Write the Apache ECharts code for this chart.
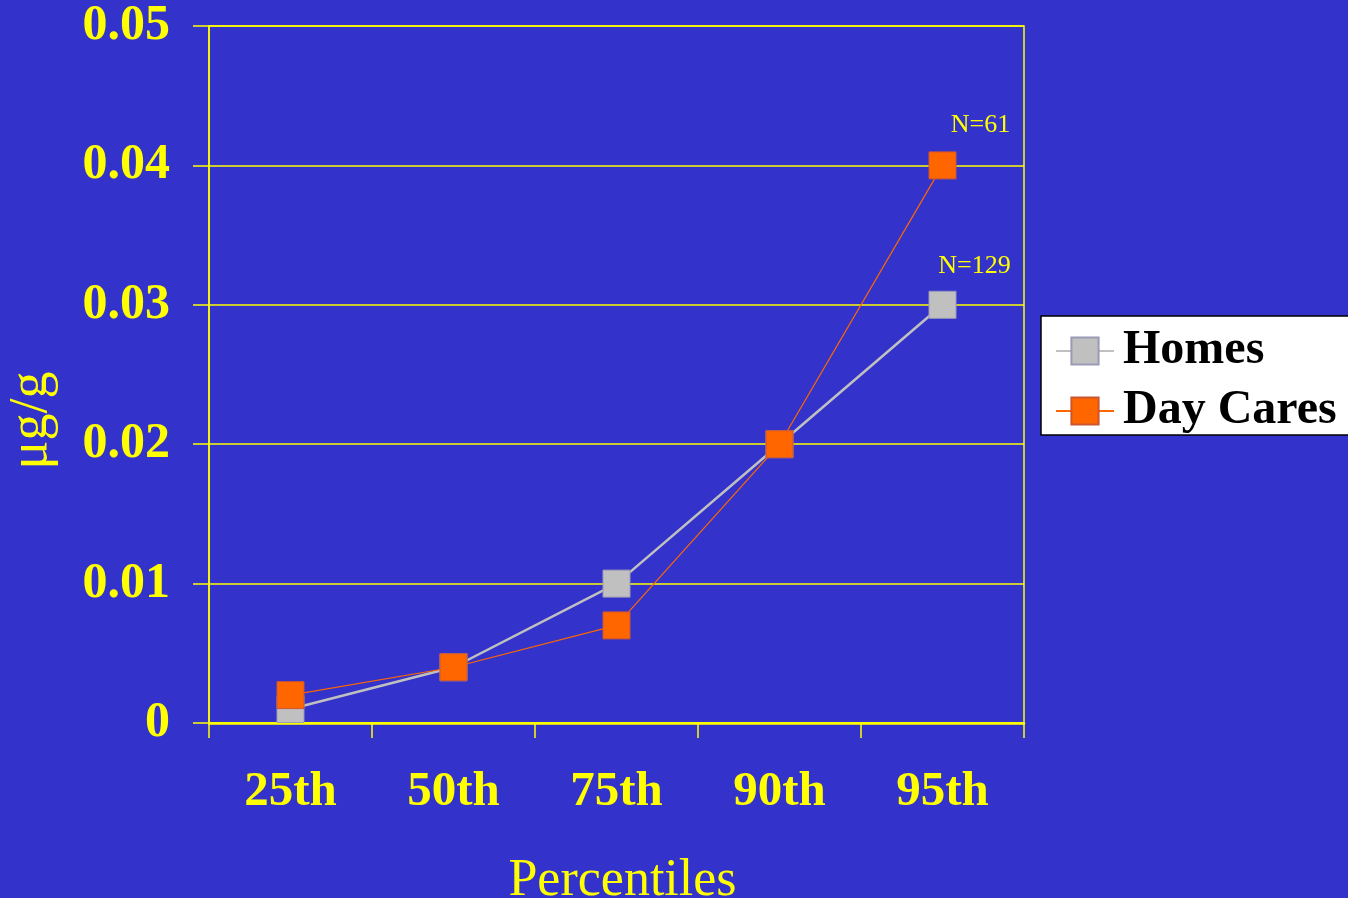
<!DOCTYPE html>
<html>
<head>
<meta charset="utf-8">
<style>
html,body{margin:0;padding:0;background:#3333CC;overflow:hidden;}
#chart{width:1348px;height:898px;}
</style>
<script src="https://cdn.jsdelivr.net/npm/echarts@6/dist/echarts.min.js"></script>
</head>
<body>
<div id="chart"></div>
<script>
const categories = ['25th', '50th', '75th', '90th', '95th'];
const homes = [0.001, 0.004, 0.010, 0.020, 0.030];
const dayCares = [0.002, 0.004, 0.007, 0.020, 0.040];
const seriesNames = ['Homes', 'Day Cares'];
const nLabels = ['N=129', 'N=61'];

const serif = '"Liberation Serif", "Times New Roman", serif';
const yellow = '#FFFF00';

function withEndLabel(values, text, dist, dx) {
  return values.map((v, i) => i === values.length - 1 ? {
    value: v,
    label: {
      show: true, position: 'top', formatter: text, color: yellow,
      fontFamily: serif, fontSize: 26, distance: dist, offset: [dx, 0]
    }
  } : v);
}

const chart = echarts.init(document.getElementById('chart'));
chart.setOption({
  backgroundColor: '#3333CC',
  animation: false,
  grid: { left: 209, right: 324, top: 26, bottom: 175, outerBoundsMode: 'none', containLabel: false,
    show: true, borderColor: yellow, borderWidth: 1.5, backgroundColor: 'transparent' },
  legend: {
    orient: 'vertical', left: 1041, top: 316,
    backgroundColor: '#FFFFFF', borderColor: '#000000', borderWidth: 1.5,
    padding: [11, 40, 0, 14], itemGap: 12,
    itemWidth: 58, itemHeight: 34,
    textStyle: { fontFamily: serif, fontWeight: 'bold', fontSize: 48, color: '#000', lineHeight: 47, padding: [0, 0, 0, 4] },
    data: seriesNames
  },
  xAxis: {
    type: 'category', data: categories, boundaryGap: true,
    name: 'Percentiles', nameLocation: 'middle', nameGap: 132,
    nameTextStyle: { fontFamily: serif, fontSize: 52, color: yellow, padding: [0, 0, 0, 12] },
    axisLine: { show: true, lineStyle: { color: yellow, width: 2.5 } },
    axisTick: { show: true, length: 15, lineStyle: { color: yellow, width: 1.5 } },
    axisLabel: { fontFamily: serif, fontWeight: 'bold', fontSize: 49, color: yellow, margin: 45 },
    splitLine: { show: false }
  },
  yAxis: {
    type: 'value', min: 0, max: 0.05, interval: 0.01,
    name: 'μg/g', nameLocation: 'middle', nameGap: 150, nameRotate: 90,
    nameTextStyle: { fontFamily: serif, fontSize: 54, color: yellow, padding: [0, 92, 0, 0] },
    axisLine: { show: true, lineStyle: { color: yellow, width: 1.5 } },
    axisTick: { show: true, length: 16, lineStyle: { color: yellow, width: 1.5 } },
    axisLabel: { fontFamily: serif, fontWeight: 'bold', fontSize: 50, color: yellow, margin: 39,
      formatter: v => v === 0 ? '0' : v.toFixed(2) },
    splitLine: { show: true, lineStyle: { color: yellow, width: 1.5 } }
  },
  series: [
    {
      name: seriesNames[0], type: 'line', data: withEndLabel(homes, nLabels[0], 12, 32),
      symbol: 'rect', symbolSize: 27,
      lineStyle: { color: '#C0C0C0', width: 2.5 },
      itemStyle: { color: '#C0C0C0', borderColor: '#9A9AB8', borderWidth: 1 },
      z: 2
    },
    {
      name: seriesNames[1], type: 'line', data: withEndLabel(dayCares, nLabels[1], 13, 38),
      symbol: 'rect', symbolSize: 27,
      lineStyle: { color: '#FF6600', width: 1.2 },
      itemStyle: { color: '#FF6600', borderColor: '#CC5533', borderWidth: 1 },
      z: 3
    }
  ]
});
</script>
</body>
</html>
